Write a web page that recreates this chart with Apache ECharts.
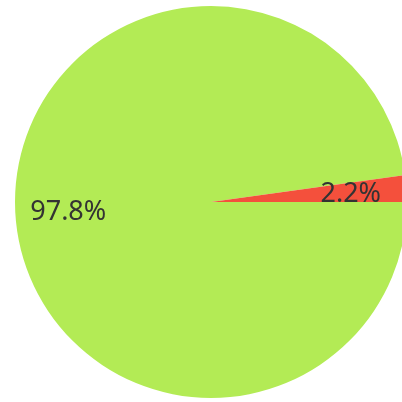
<!DOCTYPE html>
<html>
<head>
<meta charset="utf-8">
<script src="https://cdn.jsdelivr.net/npm/echarts@6/dist/echarts.min.js"></script>
<style>
  html, body { margin: 0; padding: 0; background: #fff; }
  #main { width: 402px; height: 402px; }
</style>
</head>
<body>
<div id="main"></div>
<script>
// 数据
const names = ['A', 'B'];
const values = [97.8, 2.2];
const colors = ['#b3eb55', '#f4503c'];
// 标签微调（默认在半径中点，原图更靠外）
const labelShiftX = [-42, 39];
const labelShiftY = [3, -1];

let chart = echarts.init(document.getElementById('main'));
let option = {
  backgroundColor: '#fff',
  animation: false,
  series: [
    {
      type: 'pie',
      center: [211, 202],
      radius: 196,
      startAngle: 0,
      clockwise: true,
      data: names.map((n, i) => ({
        name: n,
        value: values[i],
        itemStyle: { color: colors[i] }
      })),
      label: {
        show: true,
        position: 'inside',
        formatter: p => p.value + '%',
        color: '#333',
        fontSize: 27,
        fontFamily: 'Noto Sans'
      },
      labelLayout: p => ({ dx: labelShiftX[p.dataIndex], dy: labelShiftY[p.dataIndex] }),
      emphasis: { disabled: true }
    }
  ]
};
chart.setOption(option);
</script>
</body>
</html>
